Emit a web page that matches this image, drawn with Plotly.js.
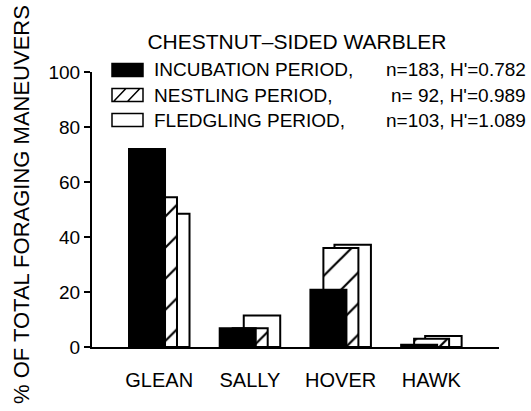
<!DOCTYPE html>
<html>
<head>
<meta charset="utf-8">
<script src="https://cdn.plot.ly/plotly-3.0.1.min.js"></script>
<style>html,body{margin:0;padding:0;background:#fff;}#chart{width:531px;height:411px;}</style>
</head>
<body>
<div id="chart"></div>
<script>
const categories = ['GLEAN', 'SALLY', 'HOVER', 'HAWK'];
const incubation = [72, 6.8, 20.8, 0.8];
const nestling = [54.5, 6.8, 36, 3];
const fledgling = [48.5, 11.5, 37.2, 4];
const seriesLabels = ['INCUBATION PERIOD,', 'NESTLING PERIOD,', 'FLEDGLING PERIOD,'];
const seriesStats = ["n=183, H'=0.782", "n=\u00A092, H'=0.989", "n=103, H'=1.089"];
const yTicks = [0, 20, 40, 60, 80, 100];

const FONT = 'Liberation Sans, Arial, sans-serif';
const W = 531, H = 411, ML = 92, MR = 32, MT = 72, MB = 64;
const PW = W - ML - MR, PH = H - MT - MB;
const px = v => (v - ML) / PW;
const py = v => (H - MB - v) / PH;

const line = {color: '#000', width: 2};
const traces = [
  {type: 'bar', name: seriesLabels[2], x: categories, y: fledgling,
   offset: -0.068, width: 0.402,
   marker: {color: '#fff', line: line}},
  {type: 'bar', name: seriesLabels[1], x: categories, y: nestling,
   offset: -0.19, width: 0.386,
   marker: {color: '#fff', line: line,
            pattern: {shape: '/', fgcolor: '#000', bgcolor: '#fff', size: 22, solidity: 0.1}}},
  {type: 'bar', name: seriesLabels[0], x: categories, y: incubation,
   offset: -0.333, width: 0.397,
   marker: {color: '#000', line: line}}
];

// custom legend
const rowsY = [70, 95, 120];
const boxL = 112, boxR = 143, boxH = 6.5;
const shapes = [];
const annotations = [];
rowsY.forEach((ry, i) => {
  const x0 = px(boxL), x1 = px(boxR), y0 = py(ry + boxH), y1 = py(ry - boxH);
  if (i === 0) {
    shapes.push({type: 'rect', xref: 'paper', yref: 'paper', x0, x1, y0, y1,
      fillcolor: '#000', line: {color: '#000', width: 1.5}});
  } else if (i === 1) {
    const w = x1 - x0;
    const p = `M${x0},${y0} L${x1},${y0} L${x1},${y1} L${x0},${y1} Z ` +
      `M${x0 + w * 0.05},${y0} L${x0 + w * 0.45},${y1} ` +
      `M${x0 + w * 0.5},${y0} L${x0 + w * 0.9},${y1}`;
    shapes.push({type: 'path', xref: 'paper', yref: 'paper', path: p,
      fillcolor: 'rgba(0,0,0,0)', line: {color: '#000', width: 1.5}});
  } else {
    shapes.push({type: 'rect', xref: 'paper', yref: 'paper', x0, x1, y0, y1,
      fillcolor: '#fff', line: {color: '#000', width: 1.5}});
  }
  annotations.push({xref: 'paper', yref: 'paper', x: px(152), y: py(ry),
    xanchor: 'left', yanchor: 'middle', showarrow: false, text: seriesLabels[i],
    font: {family: FONT, size: 19, color: '#000'}});
  annotations.push({xref: 'paper', yref: 'paper', x: px(528), y: py(ry),
    xanchor: 'right', yanchor: 'middle', showarrow: false, text: seriesStats[i],
    font: {family: FONT, size: 19, color: '#000'}});
});
annotations.push({xref: 'paper', yref: 'paper', x: px(21), y: py(205), xanchor: 'center', yanchor: 'middle',
  textangle: -90, showarrow: false, text: '% OF TOTAL FORAGING MANEUVERS',
  font: {family: FONT, size: 22, color: '#000'}});

const layout = {
  width: W, height: H,
  margin: {l: ML, r: MR, t: MT, b: MB, pad: 0},
  paper_bgcolor: '#fff', plot_bgcolor: '#fff',
  barmode: 'overlay',
  showlegend: false,
  title: {text: 'CHESTNUT\u2013SIDED WARBLER', x: 297 / W, xanchor: 'center',
          y: 1 - 42 / H, yanchor: 'middle', yref: 'container',
          font: {family: FONT, size: 21, color: '#000'}},
  xaxis: {type: 'category', range: [-0.741, 3.746], showline: true, linecolor: '#000', linewidth: 2,
          ticks: 'outside', ticklen: 14, tickcolor: 'rgba(0,0,0,0)', showgrid: false, zeroline: false,
          tickfont: {family: FONT, size: 20, color: '#000'}, fixedrange: true},
  yaxis: {range: [0, 100], tickvals: yTicks, showline: true, linecolor: '#000', linewidth: 2,
          ticks: 'outside', ticklen: 6, tickwidth: 2, tickcolor: '#000', showgrid: false, zeroline: false,
          tickfont: {family: FONT, size: 19, color: '#000'}, fixedrange: true},
  shapes: shapes,
  annotations: annotations
};

Plotly.newPlot('chart', traces, layout, {displayModeBar: false, staticPlot: true});
</script>
</body>
</html>
